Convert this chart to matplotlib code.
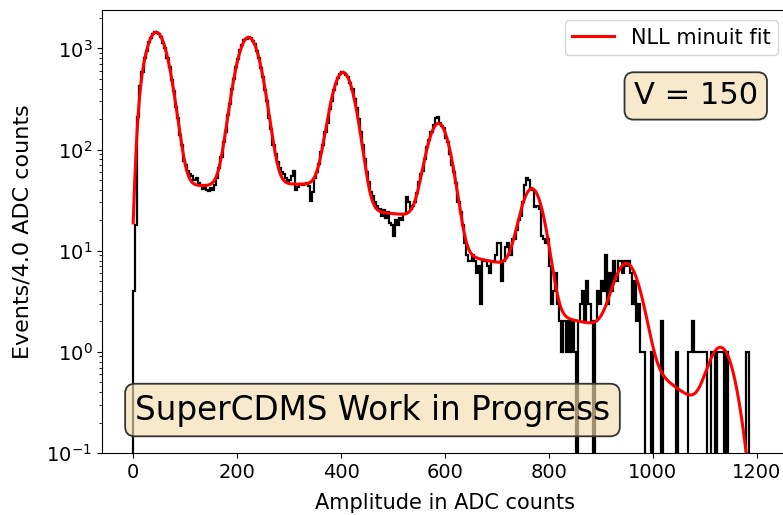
import math
import matplotlib

matplotlib.use('Agg')
import matplotlib.pyplot as plt
import numpy as np

plt.rcParams['font.family'] = ['DejaVu Sans']

# histogram: 4 ADC count bins starting at 0
bin_width = 4.0
bin_start = 0.0
counts = [
    4, 18, 210, 430, 590, 800, 950, 1150, 1260, 1400,
    1460, 1430, 1380, 1300, 1130, 1000, 800, 660, 490, 380,
    265, 205, 140, 110, 78, 70, 62, 58, 55, 50,
    52, 47, 45, 41, 43, 40, 39, 42, 40, 45,
    52, 66, 85, 118, 150, 220, 285, 400, 500, 660,
    790, 960, 1070, 1210, 1250, 1300, 1280, 1180, 1100, 940,
    810, 640, 520, 385, 300, 205, 160, 112, 90, 75,
    66, 60, 57, 52, 48, 50, 55, 62, 40, 43,
    46, 45, 46, 47, 44, 31, 38, 52, 60, 72,
    95, 112, 150, 185, 250, 300, 385, 450, 510, 560,
    590, 570, 550, 520, 455, 400, 320, 255, 200, 150,
    110, 80, 60, 48, 38, 35, 30, 28, 26, 22,
    25, 21, 24, 19, 18, 14, 20, 18, 21, 20,
    23, 34, 30, 26, 28, 30, 37, 48, 58, 62,
    80, 105, 125, 150, 175, 205, 210, 185, 170, 165,
    130, 120, 90, 70, 60, 47, 30, 24, 18, 12,
    9, 8, 8, 9, 8, 6, 7, 3, 8, 8,
    7, 6, 8, 8, 9, 12, 12, 5, 8, 11,
    12, 9, 13, 13, 16, 20, 22, 30, 45, 52,
    50, 42, 40, 27, 28, 26, 14, 13, 12, 13,
    7, 3, 4, 6, 3, 2, 1, 2, 1, 2,
    1, 2, 1, 0, 2, 3, 4, 2, 5, 3,
    2, 0, 2, 4, 3, 5, 4, 9, 3, 6,
    4, 8, 5, 8, 8, 6, 8, 7, 8, 6,
    3, 5, 2, 3, 1, 1, 0, 0, 0, 1,
    0, 0, 0, 0, 2, 0, 0, 0, 0, 0,
    0, 1, 0, 0, 0, 0, 0, 1, 1, 2,
    1, 1, 1, 1, 1, 1, 0, 0, 1, 1,
    0, 1, 1, 1, 0, 1, 0, 0, 0, 0,
    0, 0, 0, 0, 0, 1, 0, 0, 0, 0,
]

# fit parameters
peak_mu = [44, 222, 404, 588, 768, 950, 1132]
peak_amp = [1428, 1245, 545, 166, 36.5, 6.2, 1.0]
peak_sigma = [20, 20, 19, 19, 19, 22, 22]
# level of the flat part between peak n and n+1, at its left and right end
plateau_left = [44, 46, 26, 10, 2.5, 1.0]
plateau_right = [44, 45, 21, 6.5, 1.6, 0.21]
threshold_mu, threshold_width = 6.7, 6.4
fit_range = (0, 1200)

erf = np.vectorize(math.erf)


def fit_model(x):
    y = np.zeros_like(x)
    for mu, a, s in zip(peak_mu, peak_amp, peak_sigma):
        y += a * np.exp(-0.5 * ((x - mu) / s) ** 2)
    for i in range(len(plateau_left)):
        m0, m1 = peak_mu[i], peak_mu[i + 1]
        t = np.clip((x - m0) / (m1 - m0), 0, 1)
        level = plateau_left[i] * (plateau_right[i] / plateau_left[i]) ** t
        lo = erf((x - m0) / (np.sqrt(2) * peak_sigma[i]))
        hi = erf((x - m1) / (np.sqrt(2) * peak_sigma[i + 1]))
        y += level * 0.5 * (lo - hi)
    y *= 0.5 * (1 + erf((x - threshold_mu) / (np.sqrt(2) * threshold_width)))
    return y


fig = plt.figure(figsize=(7.83, 5.15), dpi=100)
ax = fig.add_axes([102 / 783, 62 / 515, 686 / 783, 443 / 515])

edges = bin_start + bin_width * np.arange(len(counts) + 1)
ax.stairs(counts, edges, color='black', linewidth=1.6)

x = np.linspace(fit_range[0], fit_range[1], 1201)
ax.plot(x, fit_model(x), color='red', linewidth=2.2, label='NLL minuit fit')

ax.set_yscale('log')
ax.set_xlim(-60, 1260)
ax.set_ylim(0.1, 2400)
ax.set_xticks([0, 200, 400, 600, 800, 1000, 1200])
ax.tick_params(labelsize=14)
ax.set_xlabel('Amplitude in ADC counts', fontsize=15, labelpad=8)
ax.set_ylabel('Events/4.0 ADC counts', fontsize=16, labelpad=10)

ax.legend(loc='upper right', fontsize=15, borderpad=0.35)

box = dict(boxstyle='round', facecolor=(0.961, 0.871, 0.702, 0.65),
           edgecolor=(0.2, 0.2, 0.2), linewidth=1.3)
ax.text(0.048, 0.097, 'SuperCDMS Work in Progress', transform=ax.transAxes,
        fontsize=23.5, ha='left', va='center', bbox=box)
ax.text(0.956, 0.806, 'V = 150', transform=ax.transAxes,
        fontsize=22, ha='right', va='center', bbox=box)

plt.savefig('out.png', dpi=100)
plt.close()
